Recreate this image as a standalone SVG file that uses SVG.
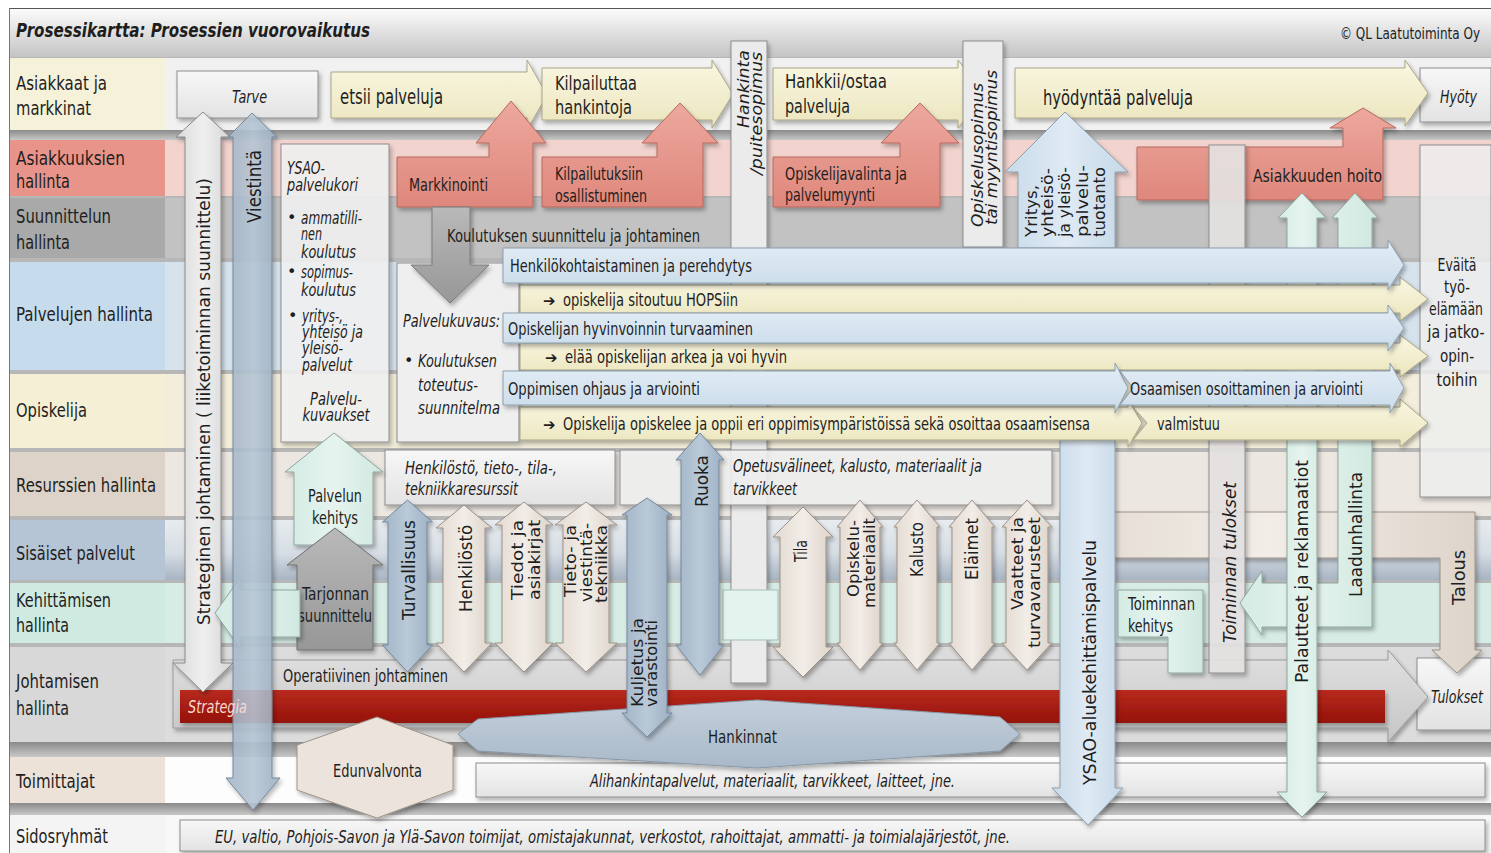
<svg xmlns="http://www.w3.org/2000/svg" width="1491" height="853" viewBox="0 0 1491 853">
<defs>
  <linearGradient id="gTitle" x1="0" y1="0" x2="0" y2="1"><stop offset="0" stop-color="#fdfdfd"/><stop offset="1" stop-color="#c4c4c4"/></linearGradient>
  <linearGradient id="gYel" x1="0" y1="0" x2="0" y2="1"><stop offset="0" stop-color="#faf7e2"/><stop offset="1" stop-color="#ebe5bd"/></linearGradient>
  <linearGradient id="gPnk" x1="0" y1="0" x2="0" y2="1"><stop offset="0" stop-color="#eda89e"/><stop offset="1" stop-color="#df877c"/></linearGradient>
  <linearGradient id="gBlu" x1="0" y1="0" x2="0" y2="1"><stop offset="0" stop-color="#e4eef6"/><stop offset="1" stop-color="#c9dbe9"/></linearGradient>
  <linearGradient id="gBluV" x1="0" y1="0" x2="1" y2="0"><stop offset="0" stop-color="#c9dbe9"/><stop offset="0.5" stop-color="#dfeaf4"/><stop offset="1" stop-color="#c6d8e7"/></linearGradient>
  <linearGradient id="gBgr" x1="0" y1="0" x2="1" y2="0"><stop offset="0" stop-color="#a2b5c7"/><stop offset="0.5" stop-color="#b9c9d8"/><stop offset="1" stop-color="#9cafc2"/></linearGradient>
  <linearGradient id="gBei" x1="0" y1="0" x2="1" y2="0"><stop offset="0" stop-color="#e3dad1"/><stop offset="0.5" stop-color="#f2ede8"/><stop offset="1" stop-color="#ddd3c9"/></linearGradient>
  <linearGradient id="gMnt" x1="0" y1="0" x2="1" y2="0"><stop offset="0" stop-color="#d3ebe3"/><stop offset="0.5" stop-color="#e6f4ef"/><stop offset="1" stop-color="#cfe8df"/></linearGradient>
  <linearGradient id="gBox" x1="0" y1="0" x2="0" y2="1"><stop offset="0" stop-color="#f7f7f7"/><stop offset="1" stop-color="#e3e3e3"/></linearGradient>
  <linearGradient id="gStr" x1="0" y1="0" x2="1" y2="0"><stop offset="0" stop-color="#d8d8d8"/><stop offset="0.5" stop-color="#efefef"/><stop offset="1" stop-color="#d4d4d4"/></linearGradient>
  <linearGradient id="gDark" x1="0" y1="0" x2="0" y2="1"><stop offset="0" stop-color="#b9b9b9"/><stop offset="1" stop-color="#979797"/></linearGradient>
  <linearGradient id="gOp" x1="0" y1="0" x2="0" y2="1"><stop offset="0" stop-color="#e0e0e0"/><stop offset="1" stop-color="#c6c6c6"/></linearGradient>
  <linearGradient id="gRed" x1="0" y1="0" x2="0" y2="1"><stop offset="0" stop-color="#b82a1e"/><stop offset="1" stop-color="#951209"/></linearGradient>
  <linearGradient id="gHank" x1="0" y1="0" x2="0" y2="1"><stop offset="0" stop-color="#c3cfdb"/><stop offset="1" stop-color="#a9b9c9"/></linearGradient>
  <linearGradient id="gSis" x1="0" y1="0" x2="0" y2="1"><stop offset="0" stop-color="#e8ecf0"/><stop offset="0.55" stop-color="#d6dde4"/><stop offset="1" stop-color="#a7b4c2"/></linearGradient>
  <linearGradient id="gGap" x1="0" y1="0" x2="0" y2="1"><stop offset="0" stop-color="#8a8a8a"/><stop offset="1" stop-color="#c8c8c8"/></linearGradient>
  <filter id="sh" x="-20%" y="-20%" width="140%" height="140%">
    <feDropShadow dx="2" dy="3" stdDeviation="2" flood-color="#000" flood-opacity="0.3"/>
  </filter>
</defs>
<style>
  text { font-family: "DejaVu Sans", "Liberation Sans", sans-serif; fill: #1e1e1e; }
  .lb { font-size: 20px; }
  .m { font-size: 18px; }
  .k { font-size: 17px; }
  .s { font-size: 16px; }
  .i { font-style: italic; }
  .c { text-anchor: middle; }
  .ar { font-size: 15px; font-weight: bold; }
  .yel { fill: url(#gYel); stroke: #aaa488; stroke-width: 1; filter: url(#sh); }
  .pnk { fill: url(#gPnk); stroke: #b5695f; stroke-width: 1; filter: url(#sh); }
  .blu { fill: url(#gBlu); stroke: #8c9fae; stroke-width: 1; filter: url(#sh); }
  .bluv { fill: url(#gBluV); stroke: #8c9fae; stroke-width: 1; filter: url(#sh); }
  .bgr { fill: url(#gBgr); stroke: #74879a; stroke-width: 1; filter: url(#sh); }
  .bei { fill: url(#gBei); stroke: #9c9186; stroke-width: 1; filter: url(#sh); }
  .mnt { fill: url(#gMnt); stroke: #8fa59d; stroke-width: 1; filter: url(#sh); }
  .box { fill: url(#gBox); stroke: #8d8d8d; stroke-width: 1; filter: url(#sh); }
  .col { fill: #ebebeb; stroke: #8d8d8d; stroke-width: 1; filter: url(#sh); }
</style>

<!-- frame and title bar -->
<rect x="0" y="0" width="1491" height="853" fill="#ffffff"/>
<rect x="9" y="8" width="1482" height="845" fill="#b7b7b7"/>
<rect x="9" y="8" width="1482" height="49" fill="url(#gTitle)"/>
<line x1="9" y1="8.5" x2="1491" y2="8.5" stroke="#555" stroke-width="1"/>
<line x1="9.5" y1="8" x2="9.5" y2="853" stroke="#777" stroke-width="1"/>
<text x="16" y="37" font-size="19" font-weight="bold" font-style="italic" textLength="354" lengthAdjust="spacingAndGlyphs">Prosessikartta: Prosessien vuorovaikutus</text>
<text x="1340" y="39" font-size="15" textLength="140" lengthAdjust="spacingAndGlyphs" fill="#333">© QL Laatutoiminta Oy</text>

<!-- swimlane bands -->
<g id="lanes">
  <rect x="10" y="130" width="1481" height="10" fill="url(#gGap)"/>
  <rect x="10" y="742" width="1481" height="15" fill="url(#gGap)"/>
  <rect x="10" y="803" width="1481" height="12" fill="url(#gGap)"/>
  <rect x="165" y="58" width="1326" height="72" fill="#f1f1f1"/>
  <rect x="165" y="140" width="1326" height="56" fill="#f2d3ce"/>
  <rect x="165" y="198" width="1326" height="60" fill="#c2c2c2"/>
  <rect x="165" y="262" width="1326" height="108" fill="#d6e3ed"/>
  <rect x="165" y="374" width="1326" height="74" fill="#f3eedb"/>
  <rect x="165" y="452" width="1326" height="64" fill="#ece7e1"/>
  <rect x="165" y="520" width="1326" height="60" fill="url(#gSis)"/>
  <rect x="165" y="583" width="1326" height="60" fill="#d7ece5"/>
  <rect x="165" y="647" width="1326" height="95" fill="#dcdcdc"/>
  <rect x="165" y="757" width="1326" height="46" fill="#fdfdfd"/>
  <rect x="165" y="815" width="1326" height="38" fill="#f8f8f8"/>
  <rect x="10" y="58" width="155" height="72" fill="#f6f1d9"/>
  <rect x="10" y="140" width="155" height="56" fill="#e8948a"/>
  <rect x="10" y="198" width="155" height="60" fill="#a9a9a9"/>
  <rect x="10" y="262" width="155" height="108" fill="#c6dbeb"/>
  <rect x="10" y="374" width="155" height="74" fill="#f5efd5"/>
  <rect x="10" y="452" width="155" height="64" fill="#ddd3c8"/>
  <rect x="10" y="520" width="155" height="60" fill="#b6c5d5"/>
  <rect x="10" y="583" width="155" height="60" fill="#cfeae1"/>
  <rect x="10" y="647" width="155" height="95" fill="#d8d8d8"/>
  <rect x="10" y="757" width="155" height="46" fill="#ece2d8"/>
  <rect x="10" y="815" width="155" height="38" fill="#f4f4f4"/>
  <text class="lb" x="16" y="90" textLength="91" lengthAdjust="spacingAndGlyphs">Asiakkaat ja</text>
  <text class="lb" x="16" y="115" textLength="75" lengthAdjust="spacingAndGlyphs">markkinat</text>
  <text class="lb" x="16" y="165" textLength="109" lengthAdjust="spacingAndGlyphs">Asiakkuuksien</text>
  <text class="lb" x="16" y="188" textLength="54" lengthAdjust="spacingAndGlyphs">hallinta</text>
  <text class="lb" x="16" y="223" textLength="95" lengthAdjust="spacingAndGlyphs">Suunnittelun</text>
  <text class="lb" x="16" y="249" textLength="54" lengthAdjust="spacingAndGlyphs">hallinta</text>
  <text class="lb" x="16" y="321" textLength="137" lengthAdjust="spacingAndGlyphs">Palvelujen hallinta</text>
  <text class="lb" x="16" y="417" textLength="71" lengthAdjust="spacingAndGlyphs">Opiskelija</text>
  <text class="lb" x="16" y="492" textLength="140" lengthAdjust="spacingAndGlyphs">Resurssien hallinta</text>
  <text class="lb" x="16" y="560" textLength="119" lengthAdjust="spacingAndGlyphs">Sisäiset palvelut</text>
  <text class="lb" x="16" y="607" textLength="95" lengthAdjust="spacingAndGlyphs">Kehittämisen</text>
  <text class="lb" x="16" y="632" textLength="53" lengthAdjust="spacingAndGlyphs">hallinta</text>
  <text class="lb" x="16" y="688" textLength="83" lengthAdjust="spacingAndGlyphs">Johtamisen</text>
  <text class="lb" x="16" y="715" textLength="53" lengthAdjust="spacingAndGlyphs">hallinta</text>
  <text class="lb" x="16" y="788" textLength="79" lengthAdjust="spacingAndGlyphs">Toimittajat</text>
  <text class="lb" x="16" y="843" textLength="92" lengthAdjust="spacingAndGlyphs">Sidosryhmät</text>
</g>

<!-- stakeholder and supplier boxes -->
<g id="sidosryhmat">
  <rect class="box" x="180" y="820" width="1305" height="31"/>
  <text class="i" font-size="17" x="215" y="843" textLength="795" lengthAdjust="spacingAndGlyphs">EU,  valtio, Pohjois-Savon ja Ylä-Savon toimijat, omistajakunnat, verkostot, rahoittajat, ammatti- ja toimialajärjestöt, jne.</text>
</g>
<g id="alihankinta">
  <rect class="box" x="476" y="763" width="1009" height="34"/>
  <text class="i" font-size="17" x="590" y="787" textLength="365" lengthAdjust="spacingAndGlyphs">Alihankintapalvelut, materiaalit, tarvikkeet, laitteet, jne.</text>
</g>

<!-- results box and operative management arrow -->
<g id="tulokset">
  <rect class="box" x="1417" y="658" width="74" height="72"/>
  <text class="i" font-size="17" x="1431" y="703" textLength="52" lengthAdjust="spacingAndGlyphs">Tulokset</text>
</g>
<g id="operatiivinen">
  <polygon fill="url(#gOp)" stroke="#9a9a9a" filter="url(#sh)" points="173,660 1388,660 1388,650 1428,697 1388,742 1388,728 173,728"/>
  <text class="m" x="283" y="682" textLength="165" lengthAdjust="spacingAndGlyphs">Operatiivinen johtaminen</text>
</g>
<g id="strategia">
  <rect x="180" y="690" width="1205" height="33" fill="url(#gRed)" filter="url(#sh)"/>
</g>
<g id="hankinnat">
  <polygon fill="url(#gHank)" stroke="#8798a8" filter="url(#sh)" points="458,734 478,719 757,700 1000,717 1020,734 1000,751 757,768 478,751"/>
  <text class="m" x="708" y="743" textLength="69" lengthAdjust="spacingAndGlyphs">Hankinnat</text>
</g>
<g id="edunvalvonta">
  <polygon fill="#ece4dc" stroke="#9c9186" filter="url(#sh)" points="377,717 453,745 453,790 377,818 297,790 297,745"/>
  <text class="m" x="333" y="777" textLength="89" lengthAdjust="spacingAndGlyphs">Edunvalvonta</text>
</g>

<!-- customer row -->
<g id="tarve">
  <rect class="box" x="177" y="71" width="141" height="47"/>
  <text class="i" font-size="17" x="232" y="103" textLength="35" lengthAdjust="spacingAndGlyphs">Tarve</text>
</g>
<g id="hyoty">
  <rect class="box" x="1420" y="68" width="71" height="54"/>
  <text class="i" font-size="17" x="1440" y="103" textLength="37" lengthAdjust="spacingAndGlyphs">Hyöty</text>
</g>
<g id="etsii">
  <polygon class="yel" points="331,72 527,72 527,60 547,95 527,130 527,118 331,118"/>
  <text font-size="21" x="340" y="104" textLength="103" lengthAdjust="spacingAndGlyphs">etsii palveluja</text>
</g>
<g id="kilpailuttaa">
  <polygon class="yel" points="542,68 712,68 712,60 733,94 712,128 712,120 542,120"/>
  <text class="lb" x="555" y="90" textLength="82" lengthAdjust="spacingAndGlyphs">Kilpailuttaa</text>
  <text class="lb" x="555" y="114" textLength="77" lengthAdjust="spacingAndGlyphs">hankintoja</text>
</g>
<g id="hankkii">
  <polygon class="yel" points="773,68 958,68 958,60 985,94 958,128 958,120 773,120"/>
  <text class="lb" x="785" y="88" textLength="102" lengthAdjust="spacingAndGlyphs">Hankkii/ostaa</text>
  <text class="lb" x="785" y="113" textLength="65" lengthAdjust="spacingAndGlyphs">palveluja</text>
</g>
<g id="hyodyntaa">
  <polygon class="yel" points="1015,68 1405,68 1405,60 1428,93 1405,126 1405,118 1015,118"/>
  <text font-size="21" x="1043" y="105" textLength="150" lengthAdjust="spacingAndGlyphs">hyödyntää palveluja</text>
</g>

<!-- contract columns -->
<g id="hankintasopimus">
  <rect class="col" x="731" y="41" width="36" height="642"/>
  <text class="s i" transform="translate(749,128) rotate(-90)" textLength="78" lengthAdjust="spacingAndGlyphs">Hankinta</text>
  <text class="s i" transform="translate(762,175) rotate(-90)" textLength="123" lengthAdjust="spacingAndGlyphs">/puitesopimus</text>
</g>
<g id="opiskelusopimus">
  <rect class="col" x="963" y="41" width="40" height="206"/>
  <text class="s i" transform="translate(983,227) rotate(-90)" textLength="144" lengthAdjust="spacingAndGlyphs">Opiskelusopimus</text>
  <text class="s i" transform="translate(997,225) rotate(-90)" textLength="155" lengthAdjust="spacingAndGlyphs">tai myyntisopimus</text>
</g>

<!-- customer relationship processes -->
<g id="markkinointi">
  <polygon class="pnk" points="397,157 489,157 489,143 476,143 511,101 546,143 533,143 533,207 397,207"/>
  <text class="m" x="409" y="191" textLength="79" lengthAdjust="spacingAndGlyphs">Markkinointi</text>
</g>
<g id="kilpailutuksiin">
  <polygon class="pnk" points="542,157 657,157 657,143 642,143 680,103 718,143 703,143 703,207 542,207"/>
  <text class="m" x="555" y="180" textLength="88" lengthAdjust="spacingAndGlyphs">Kilpailutuksiin</text>
  <text class="m" x="555" y="202" textLength="92" lengthAdjust="spacingAndGlyphs">osallistuminen</text>
</g>
<g id="opiskelijavalinta">
  <polygon class="pnk" points="773,157 900,157 900,143 881,143 920,103 959,143 940,143 940,207 773,207"/>
  <text class="m" x="785" y="180" textLength="122" lengthAdjust="spacingAndGlyphs">Opiskelijavalinta ja</text>
  <text class="m" x="785" y="201" textLength="90" lengthAdjust="spacingAndGlyphs">palvelumyynti</text>
</g>
<g id="asiakkuuden-hoito">
  <polygon class="pnk" points="1137,147 1343,147 1343,128 1330,128 1363,108 1396,128 1383,128 1383,200 1137,200"/>
  <text class="m" x="1253" y="182" textLength="129" lengthAdjust="spacingAndGlyphs">Asiakkuuden hoito</text>
</g>

<!-- vertical processes on the right -->
<g id="talous">
  <polygon class="bei" points="1060,512 1475,512 1475,650 1482,650 1457,673 1432,650 1440,650 1440,558 1060,558"/>
  <text font-size="17" transform="translate(1465,605) rotate(-90)" textLength="55" lengthAdjust="spacingAndGlyphs">Talous</text>
</g>
<g id="toiminnan-tulokset">
  <rect x="1209" y="145" width="36" height="528" fill="#e7e3e3" fill-opacity="0.9" stroke="#8d8d8d" filter="url(#sh)"/>
  <text class="i" font-size="17" transform="translate(1236,643) rotate(-90)" textLength="161" lengthAdjust="spacingAndGlyphs">Toiminnan tulokset</text>
</g>
<g id="yritys">
  <polygon class="bluv" points="1065,112 1128,172 1115,172 1115,248 1018,248 1018,172 1005,172"/>
  <text class="s" transform="translate(1037,237) rotate(-90)" textLength="52" lengthAdjust="spacingAndGlyphs">Yritys,</text>
  <text class="s" transform="translate(1053,237) rotate(-90)" textLength="69" lengthAdjust="spacingAndGlyphs">yhteisö-</text>
  <text class="s" transform="translate(1070,237) rotate(-90)" textLength="70" lengthAdjust="spacingAndGlyphs">ja yleisö-</text>
  <text class="s" transform="translate(1088,237) rotate(-90)" textLength="72" lengthAdjust="spacingAndGlyphs">palvelu-</text>
  <text class="s" transform="translate(1105,237) rotate(-90)" textLength="70" lengthAdjust="spacingAndGlyphs">tuotanto</text>
</g>
<g id="ysao-aluekehittamispalvelu">
  <polygon class="bluv" points="1060,440 1115,440 1115,788 1123,788 1088,825 1052,788 1060,788"/>
  <text font-size="17" transform="translate(1096,785) rotate(-90)" textLength="245" lengthAdjust="spacingAndGlyphs">YSAO-aluekehittämispalvelu</text>
</g>
<g id="laadunhallinta">
  <polygon class="mnt" points="1355,193 1378,218 1372,218 1372,627 1262,627 1262,635 1240,603 1262,571 1262,583 1338,583 1338,218 1332,218"/>
  <text font-size="17" transform="translate(1362,597) rotate(-90)" textLength="125" lengthAdjust="spacingAndGlyphs">Laadunhallinta</text>
</g>
<g id="palautteet">
  <polygon class="mnt" points="1302,193 1326,218 1317,218 1317,792 1327,792 1302,817 1277,792 1287,792 1287,218 1278,218"/>
  <text font-size="17" transform="translate(1308,683) rotate(-90)" textLength="223" lengthAdjust="spacingAndGlyphs">Palautteet ja reklamaatiot</text>
</g>
<g id="toiminnan-kehitys">
  <polygon class="mnt" points="1118,590 1203,590 1203,673 1168,673 1168,637 1118,637"/>
  <text class="m" x="1128" y="610" textLength="67" lengthAdjust="spacingAndGlyphs">Toiminnan</text>
  <text class="m" x="1128" y="632" textLength="45" lengthAdjust="spacingAndGlyphs">kehitys</text>
</g>

<!-- service description boxes -->
<g id="ysao-palvelukori">
  <rect x="281" y="144" width="108" height="298" fill="#f2f2f2" fill-opacity="0.88" stroke="#8d8d8d" filter="url(#sh)"/>
  <text class="k i" x="287" y="174" textLength="38" lengthAdjust="spacingAndGlyphs">YSAO-</text>
  <text class="k i" x="287" y="191" textLength="71" lengthAdjust="spacingAndGlyphs">palvelukori</text>
  <text class="s" x="287" y="223">•</text>
  <text class="k i" x="301" y="224" textLength="61" lengthAdjust="spacingAndGlyphs">ammatilli-</text>
  <text class="k i" x="301" y="240" textLength="21" lengthAdjust="spacingAndGlyphs">nen</text>
  <text class="k i" x="301" y="258" textLength="55" lengthAdjust="spacingAndGlyphs">koulutus</text>
  <text class="s" x="287" y="277">•</text>
  <text class="k i" x="301" y="278" textLength="52" lengthAdjust="spacingAndGlyphs">sopimus-</text>
  <text class="k i" x="301" y="296" textLength="55" lengthAdjust="spacingAndGlyphs">koulutus</text>
  <text class="s" x="288" y="321">•</text>
  <text class="k i" x="302" y="322" textLength="41" lengthAdjust="spacingAndGlyphs">yritys-,</text>
  <text class="k i" x="302" y="338" textLength="61" lengthAdjust="spacingAndGlyphs">yhteisö ja</text>
  <text class="k i" x="302" y="354" textLength="41" lengthAdjust="spacingAndGlyphs">yleisö-</text>
  <text class="k i" x="302" y="371" textLength="50" lengthAdjust="spacingAndGlyphs">palvelut</text>
  <text class="k i c" x="336" y="405" textLength="52" lengthAdjust="spacingAndGlyphs">Palvelu-</text>
  <text class="k i c" x="336" y="421" textLength="67" lengthAdjust="spacingAndGlyphs">kuvaukset</text>
</g>
<g id="palvelukuvaus">
  <rect x="397" y="263" width="122" height="179" fill="#efefef" stroke="#8d8d8d" filter="url(#sh)"/>
  <text class="i" font-size="17" x="403" y="327" textLength="97" lengthAdjust="spacingAndGlyphs">Palvelukuvaus:</text>
  <text class="s" x="404" y="366">•</text>
  <text class="i" font-size="17" x="418" y="367" textLength="79" lengthAdjust="spacingAndGlyphs">Koulutuksen</text>
  <text class="i" font-size="17" x="418" y="391" textLength="60" lengthAdjust="spacingAndGlyphs">toteutus-</text>
  <text class="i" font-size="17" x="418" y="414" textLength="82" lengthAdjust="spacingAndGlyphs">suunnitelma</text>
</g>
<g id="evaita">
  <rect x="1420" y="145" width="71" height="352" fill="#f4f4f4" fill-opacity="0.8" stroke="#8d8d8d" filter="url(#sh)"/>
  <text class="m c" x="1457" y="271" textLength="39" lengthAdjust="spacingAndGlyphs">Eväitä</text>
  <text class="m c" x="1457" y="293" textLength="26" lengthAdjust="spacingAndGlyphs">työ-</text>
  <text class="m c" x="1456" y="315" textLength="54" lengthAdjust="spacingAndGlyphs">elämään</text>
  <text class="m c" x="1456" y="338" textLength="57" lengthAdjust="spacingAndGlyphs">ja jatko-</text>
  <text class="m c" x="1457" y="362" textLength="34" lengthAdjust="spacingAndGlyphs">opin-</text>
  <text class="m c" x="1457" y="386" textLength="41" lengthAdjust="spacingAndGlyphs">toihin</text>
</g>

<!-- flows without labels of their own -->
<g id="connectors">
  <polygon fill="url(#gDark)" stroke="#7a7a7a" filter="url(#sh)" points="432,207 470,207 470,265 489,265 450,303 411,265 432,265"/>
</g>
<g id="koulutuksen-suunnittelu">
  <text class="m" x="447" y="242" textLength="253" lengthAdjust="spacingAndGlyphs">Koulutuksen suunnittelu ja johtaminen</text>
</g>

<!-- student path -->
<g id="sitoutuu">
  <polygon class="yel" points="520,285 1400,285 1400,277 1428,299 1400,321 1400,313 520,313"/>
  <text class="ar" x="543" y="306">➔</text>
  <text class="m" x="563" y="306" textLength="175" lengthAdjust="spacingAndGlyphs">opiskelija sitoutuu HOPSiin</text>
</g>
<g id="elaa">
  <polygon class="yel" points="520,343 1400,343 1400,335 1428,356 1400,377 1400,370 520,370"/>
  <text class="ar" x="545" y="363">➔</text>
  <text class="m" x="565" y="363" textLength="222" lengthAdjust="spacingAndGlyphs">elää opiskelijan arkea ja voi hyvin</text>
</g>
<g id="opiskelee">
  <polygon class="yel" points="520,407 1128,407 1128,399 1142,423 1128,447 1128,440 520,440"/>
  <text class="ar" x="543" y="430">➔</text>
  <text class="m" x="563" y="430" textLength="527" lengthAdjust="spacingAndGlyphs">Opiskelija opiskelee ja oppii eri oppimisympäristöissä sekä osoittaa osaamisensa</text>
</g>
<g id="valmistuu">
  <polygon class="yel" points="1133,407 1400,407 1400,399 1428,423 1400,447 1400,440 1133,440 1147,423"/>
  <text class="m" x="1157" y="430" textLength="63" lengthAdjust="spacingAndGlyphs">valmistuu</text>
</g>
<g id="henkilokohtaistaminen">
  <polygon class="blu" points="503,248 1388,248 1388,240 1404,265 1388,290 1388,283 503,283"/>
  <text class="m" x="510" y="272" textLength="242" lengthAdjust="spacingAndGlyphs">Henkilökohtaistaminen ja perehdytys</text>
</g>
<g id="hyvinvointi">
  <polygon class="blu" points="503,313 1388,313 1388,305 1404,328 1388,351 1388,343 503,343"/>
  <text class="m" x="508" y="335" textLength="245" lengthAdjust="spacingAndGlyphs">Opiskelijan hyvinvoinnin turvaaminen</text>
</g>
<g id="oppimisen-ohjaus">
  <polygon class="blu" points="503,371 1115,371 1115,363 1128,388 1115,413 1115,405 503,405"/>
  <text class="m" x="508" y="395" textLength="192" lengthAdjust="spacingAndGlyphs">Oppimisen ohjaus ja arviointi</text>
</g>
<g id="osaamisen-osoittaminen">
  <polygon class="blu" points="1120,371 1390,371 1390,363 1404,388 1390,413 1390,405 1120,405 1133,388"/>
  <text class="m" x="1130" y="395" textLength="233" lengthAdjust="spacingAndGlyphs">Osaamisen osoittaminen ja arviointi</text>
</g>

<!-- resources -->
<g id="resurssit">
  <rect class="box" x="385" y="450" width="230" height="55"/>
  <text class="i" font-size="17" x="405" y="474" textLength="152" lengthAdjust="spacingAndGlyphs">Henkilöstö, tieto-, tila-,</text>
  <text class="i" font-size="17" x="405" y="495" textLength="113" lengthAdjust="spacingAndGlyphs">tekniikkaresurssit</text>
</g>
<g id="opetusvalineet">
  <rect x="620" y="450" width="432" height="55" fill="#f2f2f2" fill-opacity="0.85" stroke="#8d8d8d" filter="url(#sh)"/>
  <text class="i" font-size="17" x="733" y="472" textLength="249" lengthAdjust="spacingAndGlyphs">Opetusvälineet, kalusto, materiaalit ja</text>
  <text class="i" font-size="17" x="733" y="495" textLength="64" lengthAdjust="spacingAndGlyphs">tarvikkeet</text>
</g>
<rect x="723" y="590" width="55" height="50" fill="#e3f3ee" stroke="#a9bdb6" stroke-width="1"/>

<!-- internal services -->
<g id="turvallisuus">
  <polygon class="bgr" points="407.5,500 432.5,522 427,522 427,645 432.5,645 407.5,672 382.5,645 388,645 388,522 382.5,522"/>
  <text font-size="17" transform="translate(415,620) rotate(-90)" textLength="100" lengthAdjust="spacingAndGlyphs">Turvallisuus</text>
</g>
<g id="henkilosto">
  <polygon class="bei" points="464,505 492,528 485,528 485,643 492,643 464,672 436,643 443,643 443,528 436,528"/>
  <text font-size="17" transform="translate(472,612) rotate(-90)" textLength="87" lengthAdjust="spacingAndGlyphs">Henkilöstö</text>
</g>
<g id="tiedot">
  <polygon class="bei" points="524,502 553,525 546,525 546,643 553,643 524,672 495,643 502,643 502,525 495,525"/>
  <text class="s" transform="translate(523,600) rotate(-90)" textLength="80" lengthAdjust="spacingAndGlyphs">Tiedot ja</text>
  <text class="s" transform="translate(540,600) rotate(-90)" textLength="80" lengthAdjust="spacingAndGlyphs">asiakirjat</text>
</g>
<g id="tietotekniikka">
  <polygon class="bei" points="586,502 617,525 609,525 609,643 617,643 586,672 555,643 563,643 563,525 555,525"/>
  <text font-size="15" transform="translate(576,597) rotate(-90)" textLength="72" lengthAdjust="spacingAndGlyphs">Tieto-  ja</text>
  <text font-size="15" transform="translate(592,602) rotate(-90)" textLength="79" lengthAdjust="spacingAndGlyphs">viestintä-</text>
  <text font-size="15" transform="translate(607,603) rotate(-90)" textLength="78" lengthAdjust="spacingAndGlyphs">tekniikka</text>
</g>
<g id="kuljetus">
  <polygon class="bgr" points="647,498 672,515 667,515 667,713 672,713 647,737 622,713 627,713 627,515 622,515"/>
  <text class="s" transform="translate(643,707) rotate(-90)" textLength="89" lengthAdjust="spacingAndGlyphs">Kuljetus ja</text>
  <text class="s" transform="translate(657,707) rotate(-90)" textLength="87" lengthAdjust="spacingAndGlyphs">varastointi</text>
</g>
<g id="ruoka">
  <polygon class="bgr" points="700,433 724,460 719,460 719,645 724,645 700,675 676,645 681,645 681,460 676,460"/>
  <text font-size="17" transform="translate(708,507) rotate(-90)" textLength="52" lengthAdjust="spacingAndGlyphs">Ruoka</text>
</g>
<g id="tila">
  <polygon class="bei" points="803,507 833,537 826,537 826,647 833,647 803,677 773,647 780,647 780,537 773,537"/>
  <text font-size="17" transform="translate(807,562) rotate(-90)" textLength="22" lengthAdjust="spacingAndGlyphs">Tila</text>
</g>
<g id="opiskelumateriaalit">
  <polygon class="bei" points="860,500 883,527 880,527 880,643 883,643 860,670 837,643 840,643 840,527 837,527"/>
  <text class="s" transform="translate(859,597) rotate(-90)" textLength="77" lengthAdjust="spacingAndGlyphs">Opiskelu-</text>
  <text class="s" transform="translate(875,608) rotate(-90)" textLength="90" lengthAdjust="spacingAndGlyphs">materiaalit</text>
</g>
<g id="kalusto">
  <polygon class="bei" points="917,500 940,527 937,527 937,643 940,643 917,670 894,643 897,643 897,527 894,527"/>
  <text font-size="17" transform="translate(923,577) rotate(-90)" textLength="55" lengthAdjust="spacingAndGlyphs">Kalusto</text>
</g>
<g id="elaimet">
  <polygon class="bei" points="972,500 995,527 992,527 992,643 995,643 972,670 949,643 952,643 952,527 949,527"/>
  <text font-size="17" transform="translate(978,580) rotate(-90)" textLength="62" lengthAdjust="spacingAndGlyphs">Eläimet</text>
</g>
<g id="vaatteet">
  <polygon class="bei" points="1027,500 1052,527 1048,527 1048,643 1052,643 1027,670 1002,643 1006,643 1006,527 1002,527"/>
  <text class="s" transform="translate(1023,610) rotate(-90)" textLength="93" lengthAdjust="spacingAndGlyphs">Vaatteet ja</text>
  <text class="s" transform="translate(1040,648) rotate(-90)" textLength="131" lengthAdjust="spacingAndGlyphs">turvavarusteet</text>
</g>

<!-- development -->
<g id="palvelun-kehitys">
  <polygon class="mnt" points="334,433 383,472 373,472 373,545 294,545 294,472 285,472"/>
  <text class="m" x="308" y="502" textLength="54" lengthAdjust="spacingAndGlyphs">Palvelun</text>
  <text class="m" x="312" y="524" textLength="46" lengthAdjust="spacingAndGlyphs">kehitys</text>
</g>
<g id="tarjonnan-suunnittelu">
  <polygon fill="url(#gDark)" stroke="#6f6f6f" filter="url(#sh)" points="335,528 383,565 373,565 373,650 297,650 297,565 287,565"/>
  <text class="m" x="302" y="600" textLength="67" lengthAdjust="spacingAndGlyphs">Tarjonnan</text>
  <text class="m" x="298" y="622" textLength="74" lengthAdjust="spacingAndGlyphs">suunnittelu</text>
</g>

<!-- strategic management and communication -->
<g id="strateginen-johtaminen">
  <polygon fill="url(#gStr)" stroke="#8a8a8a" filter="url(#sh)" points="203,112 230,137 221,137 221,663 233,663 203,692 173,663 185,663 185,137 176,137"/>
  <text font-size="18" transform="translate(210,625) rotate(-90)" textLength="447" lengthAdjust="spacingAndGlyphs">Strateginen johtaminen ( liiketoiminnan suunnittelu)</text>
</g>
<g id="kehittamisen-nuoli">
  <polygon class="mnt" points="215,613 240,578 240,590 300,590 300,637 240,637 240,648"/>
</g>
<g id="viestinta">
  <polygon fill="url(#gBgr)" fill-opacity="0.85" stroke="#74879a" filter="url(#sh)" points="252,113 277,137 272,137 272,778 280,778 253,810 226,778 233,778 233,137 228,137"/>
  <text font-size="19" transform="translate(261,223) rotate(-90)" textLength="73" lengthAdjust="spacingAndGlyphs">Viestintä</text>
</g>
<g id="strategia-nimi">
  <text class="m i" x="188" y="713" textLength="59" lengthAdjust="spacingAndGlyphs" style="fill:#f6d8d2">Strategia</text>
</g>
</svg>
